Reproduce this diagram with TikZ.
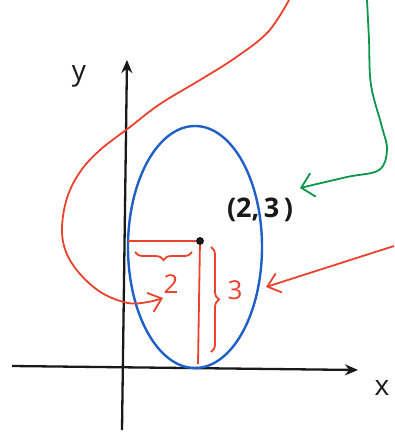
\documentclass[tikz,border=0pt]{standalone}
\usepackage{fontspec}
\setmainfont{Open Sans}
\usetikzlibrary{arrows.meta,decorations.pathreplacing}
\definecolor{penblue}{RGB}{30,95,200}
\definecolor{penred}{RGB}{235,65,45}
\definecolor{pengreen}{RGB}{10,150,75}
\definecolor{penblack}{RGB}{25,25,25}
\tikzset{
  axis/.style={draw=penblack,line width=2.3pt,-{Stealth[length=13pt,width=11pt]}},
  redpen/.style={draw=penred,line width=1.8pt},
  redarrow/.style={redpen,-{Straight Barb[length=12pt,width=20pt]}},
  greenarrow/.style={draw=pengreen,line width=1.8pt,-{Straight Barb[length=12pt,width=24pt]}},
  lab/.style={text=penblack,font=\fontsize{28}{30}\selectfont},
  pointlab/.style={text=penblack,font=\bfseries\fontsize{27}{29}\selectfont},
  redlab/.style={text=penred,font=\fontsize{26}{28}\selectfont},
  bracestyle/.style={redpen,decorate,decoration={brace,amplitude=8pt}}
}
\begin{document}
\begin{tikzpicture}[x=1pt,y=-1pt]
\useasboundingbox (0,0) rectangle (394,433);
% axes
\coordinate (ybot) at (122,430);
\coordinate (ytop) at (127,60);
\coordinate (xleft) at (12,366);
\coordinate (xright) at (358,370);
\draw[axis] (ybot) -- (ytop);
\draw[axis] (xleft) -- (xright);
\node[lab] (ylab) at (79,76) {y};
\node[lab] (xlab) at (382,388) {x};
% ellipse
\draw[penblue,line width=2.4pt] (195,247) ellipse [x radius=67pt, y radius=121pt];
% point
\node[circle,fill=penblack,inner sep=0pt,minimum size=8pt] (P) at (200,241) {};
\node[pointlab] (Plab) at (260,210) {(2,\,3\,)};
% red measurement lines
\coordinate (hleft) at (128,241);
\coordinate (vbot) at (198,364);
\draw[redpen] (P) -- (hleft);
\draw[redpen] (P) -- (vbot);
\draw[bracestyle] (192,252) -- (135,252);
\draw[bracestyle] (211,247) -- (211,352);
\node[redlab] (two) at (171,284) {2};
\node[redlab] (three) at (235,290) {3};
% red arrow from the right
\coordinate (rstart) at (394,246);
\coordinate (rtip) at (266,287);
\draw[redarrow] (rstart) -- (rtip);
% red curve from the top
\coordinate (ctip) at (163,298);
\draw[redarrow] plot[smooth,tension=0.6] coordinates {(289,0) (268,32) (235,58) (200,80) (160,104) (130,127) (100,150) (80,172) (67,198) (62,228) (66,252) (80,274) (102,293) (128,303) (148,302) (ctip)};
% green arrow
\coordinate (gtip) at (300,188);
\draw[greenarrow] plot[smooth,tension=0.6] coordinates {(367,0) (369,40) (371,85) (382,127) (387,150) (379,170) (347,177) (gtip)};
\end{tikzpicture}
\end{document}
